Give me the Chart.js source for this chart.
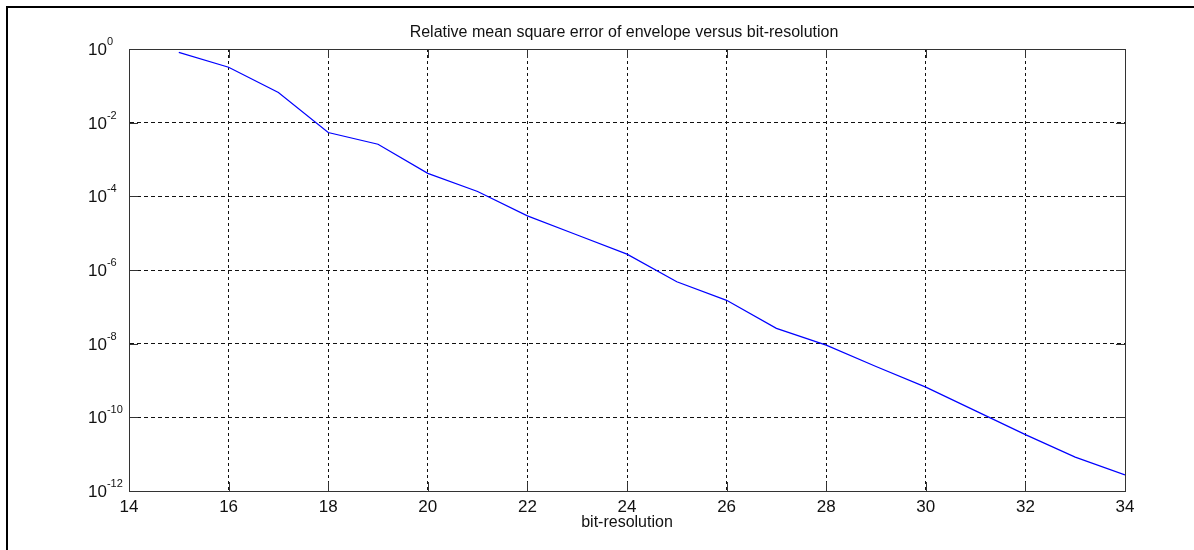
<!DOCTYPE html>
<html lang="en">
<head>
    <meta charset="UTF-8">
    <title>Relative mean square error of envelope versus bit-resolution</title>
    <script src="https://cdn.jsdelivr.net/npm/chart.js@4.4.1/dist/chart.umd.min.js"></script>
    <style>
        body {
            margin: 0;
            background-color: white;
            overflow: hidden;
        }
        #chart {
            display: block;
        }
    </style>
</head>
<body>
    <canvas id="chart" width="1194" height="550"></canvas>

    <script>
        // values
        const bitResolution = [15, 16, 17, 18, 19, 20, 21, 22, 23, 24, 25, 26, 27, 28, 29, 30, 31, 32, 33, 34];
        const relMse = [0.81, 0.32, 0.066, 5.4e-3, 2.6e-3, 4.2e-4, 1.35e-4, 2.95e-5, 8.9e-6, 2.7e-6,
                        4.8e-7, 1.5e-7, 2.6e-8, 9.1e-9, 2.4e-9, 6.6e-10, 1.5e-10, 3.4e-11, 8.3e-12, 2.75e-12];
        const xTicks = [14, 16, 18, 20, 22, 24, 26, 28, 30, 32, 34];
        const yTicks = [1, 1e-2, 1e-4, 1e-6, 1e-8, 1e-10, 1e-12];
        const yExponents = ['0', '-2', '-4', '-6', '-8', '-10', '-12'];

        const titleText = 'Relative mean square error of envelope versus bit-resolution';
        const xLabel = 'bit-resolution';

        // figure frame (only left and top edges are inside the window)
        const figureFrame = {
            id: 'figureFrame',
            beforeDraw(chart) {
                const ctx = chart.ctx;
                ctx.save();
                ctx.fillStyle = '#000';
                ctx.fillRect(6, 6, 2, chart.height - 6);
                ctx.fillRect(6, 6, chart.width - 6, 2);
                ctx.restore();
            }
        };

        // matlab style: box, inner ticks, 10^n labels, title
        const matlabAxes = {
            id: 'matlabAxes',
            afterDraw(chart) {
                const ctx = chart.ctx;
                const a = chart.chartArea;
                const xs = chart.scales.x;
                const ys = chart.scales.y;
                const tl = 9;
                ctx.save();

                ctx.strokeStyle = '#333';
                ctx.lineWidth = 1;
                ctx.setLineDash([]);
                ctx.strokeRect(Math.round(a.left) + 0.5, Math.round(a.top) + 0.5,
                    Math.round(a.right - a.left), Math.round(a.bottom - a.top));

                ctx.beginPath();
                xTicks.forEach(v => {
                    const px = Math.round(xs.getPixelForValue(v)) + 0.5;
                    ctx.moveTo(px, a.bottom);
                    ctx.lineTo(px, a.bottom - tl);
                    ctx.moveTo(px, a.top);
                    ctx.lineTo(px, a.top + tl);
                });
                yTicks.forEach(v => {
                    const py = Math.round(ys.getPixelForValue(v)) + 0.5;
                    ctx.moveTo(a.left, py);
                    ctx.lineTo(a.left + tl, py);
                    ctx.moveTo(a.right, py);
                    ctx.lineTo(a.right - tl, py);
                });
                ctx.stroke();

                ctx.fillStyle = '#111';
                ctx.textBaseline = 'alphabetic';

                ctx.font = '17px "Liberation Sans", Arial, sans-serif';
                ctx.textAlign = 'center';
                xTicks.forEach(v => {
                    ctx.fillText(String(v), xs.getPixelForValue(v), a.bottom + 21);
                });

                ctx.textAlign = 'left';
                yTicks.forEach((v, i) => {
                    const py = ys.getPixelForValue(v);
                    ctx.font = '17px "Liberation Sans", Arial, sans-serif';
                    const w = ctx.measureText('10').width;
                    ctx.fillText('10', 88, py + 6);
                    ctx.font = '11px "Liberation Sans", Arial, sans-serif';
                    ctx.fillText(yExponents[i], 88 + w, py - 4);
                });

                ctx.font = '16px "Liberation Sans", Arial, sans-serif';
                ctx.textAlign = 'center';
                ctx.fillText(titleText, 624, 37);
                ctx.fillText(xLabel, (a.left + a.right) / 2, 527);

                ctx.restore();
            }
        };

        const ctx = document.getElementById('chart').getContext('2d');
        new Chart(ctx, {
            type: 'line',
            data: {
                datasets: [{
                    data: bitResolution.map((b, i) => ({ x: b, y: relMse[i] })),
                    borderColor: '#0000ff',
                    borderWidth: 1.2,
                    pointRadius: 0,
                    tension: 0,
                    fill: false
                }]
            },
            options: {
                responsive: false,
                animation: false,
                devicePixelRatio: 1,
                layout: {
                    padding: { left: 129, top: 49, right: 69, bottom: 59 }
                },
                plugins: {
                    legend: { display: false },
                    title: { display: false },
                    tooltip: { enabled: false }
                },
                scales: {
                    x: {
                        type: 'linear',
                        min: 14,
                        max: 34,
                        ticks: { display: false, stepSize: 2 },
                        grid: { color: '#111', drawTicks: false },
                        border: { display: true, color: '#333', dash: [3, 3] },
                        afterFit: s => { s.height = 0; }
                    },
                    y: {
                        type: 'logarithmic',
                        min: 1e-12,
                        max: 1,
                        ticks: { display: false },
                        grid: { color: '#111', drawTicks: false },
                        border: { display: true, color: '#333', dash: [4, 3] },
                        afterBuildTicks: s => { s.ticks = yTicks.map(v => ({ value: v })); },
                        afterFit: s => { s.width = 0; }
                    }
                }
            },
            plugins: [figureFrame, matlabAxes]
        });
    </script>
</body>
</html>
